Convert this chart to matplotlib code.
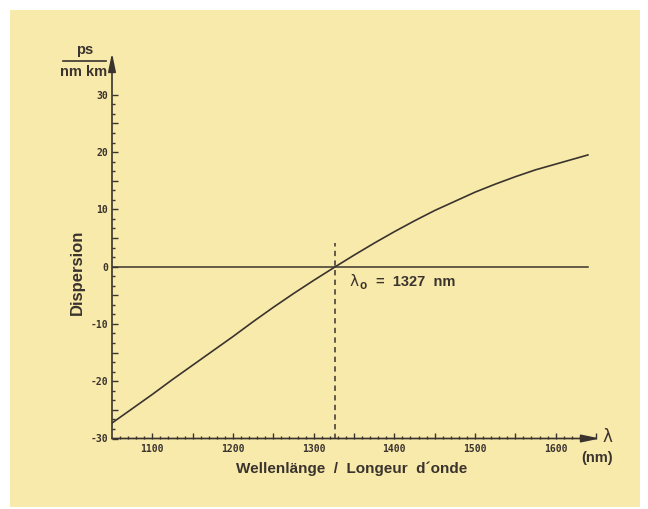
import matplotlib
matplotlib.use('Agg')
import matplotlib.pyplot as plt
import matplotlib.ticker as mticker
from matplotlib.patches import Rectangle
from matplotlib.lines import Line2D

# dispersion curve (nm, ps/(nm km))
wavelength = [1050, 1075, 1100, 1125, 1150, 1175, 1200, 1225, 1250, 1275, 1300, 1327,
              1350, 1375, 1400, 1425, 1450, 1475, 1500, 1525, 1550, 1575, 1600, 1625, 1640]
dispersion = [-27.3, -24.8, -22.3, -19.7, -17.2, -14.7, -12.2, -9.6, -7.1, -4.7, -2.4, 0.0,
              2.0, 4.1, 6.1, 8.0, 9.8, 11.4, 13.0, 14.4, 15.7, 16.9, 17.9, 18.9, 19.5]
lambda0 = 1327

x_labels = [1100, 1200, 1300, 1400, 1500, 1600]
y_labels = [-30, -20, -10, 0, 10, 20, 30]

ink = '#3a332e'
cream = '#f8eaab'
W, H = 648, 509

fig = plt.figure(figsize=(W / 100, H / 100), dpi=100)
fig.patch.set_facecolor('white')
fig.patches.append(Rectangle((10 / W, 1 - 507 / H), 630 / W, 497 / H,
                             transform=fig.transFigure, facecolor=cream,
                             edgecolor='none', zorder=-10))

# axes box in pixel terms: left 112, right (arrow tip) 600, top 53, bottom 438
ax = fig.add_axes([112 / W, 1 - 438.5 / H, (600 - 112) / W, (438.5 - 53) / H])
ax.set_facecolor('none')
ax.set_xlim(1050, 1655)
ax.set_ylim(-30, 37.3)
for s in ax.spines.values():
    s.set_visible(False)

# curve, zero line and lambda0 marker
ax.plot(wavelength, dispersion, color=ink, lw=1.2)
ax.plot([wavelength[0], wavelength[-1]], [0, 0], color=ink, lw=1.1)
ax.plot([lambda0, lambda0], [-30, 4.2], color=ink, lw=1.1, dashes=(3.5, 2.8))

# axes as arrows
ax.annotate('', xy=(1, 0), xytext=(0, 0), xycoords='axes fraction',
            arrowprops=dict(arrowstyle='-|>,head_length=11,head_width=2.3',
                            mutation_scale=1, color=ink, lw=1.2, shrinkA=0, shrinkB=0))
ax.annotate('', xy=(0, 1), xytext=(0, 0), xycoords='axes fraction',
            arrowprops=dict(arrowstyle='-|>,head_length=11,head_width=2.3',
                            mutation_scale=1, color=ink, lw=1.2, shrinkA=0, shrinkB=0))

# ticks
ax.xaxis.set_major_locator(mticker.FixedLocator(range(1100, 1651, 50)))
ax.xaxis.set_minor_locator(mticker.FixedLocator(range(1060, 1651, 10)))
ax.xaxis.set_major_formatter(mticker.FuncFormatter(
    lambda v, p: str(int(v)) if int(v) in x_labels else ''))
ax.yaxis.set_major_locator(mticker.FixedLocator(range(-30, 31, 5)))
ax.yaxis.set_minor_locator(mticker.FixedLocator([-30 + i * 10 / 6 for i in range(37)]))
ax.yaxis.set_major_formatter(mticker.FuncFormatter(
    lambda v, p: str(int(round(v))) if int(round(v)) in y_labels else ''))
ax.tick_params(which='both', direction='in', color=ink, width=1.0)
ax.tick_params(which='major', length=4.0)
ax.tick_params(which='minor', length=2.0)
ax.tick_params(axis='x', which='major', pad=4)
ax.tick_params(axis='y', which='major', pad=3)
for lab in ax.get_xticklabels() + ax.get_yticklabels():
    lab.set_fontfamily('DejaVu Sans Mono')
    lab.set_fontweight('bold')
    lab.set_fontsize(7)
    lab.set_color(ink)

# texts
lab_font = dict(family='Liberation Sans', weight='bold', color=ink)
fig.text(352 / W, 1 - 469 / H, 'Wellenlänge  /  Longeur  d\u00b4onde', ha='center', va='center',
         fontsize=11, **lab_font)
fig.text(77 / W, 1 - 272 / H, 'Dispersion', ha='center', va='center', rotation=90,
         fontsize=12, **lab_font)
fig.text(85 / W, 1 - 50 / H, 'ps', ha='center', va='center', fontsize=10.5, **lab_font)
fig.add_artist(Line2D([63 / W, 106 / W], [1 - 61 / H, 1 - 61 / H], color=ink, lw=1.2,
                      transform=fig.transFigure))
fig.text(84 / W, 1 - 72 / H, 'nm km', ha='center', va='center', fontsize=10.5, **lab_font)
fig.text(602 / W, 1 - 437 / H, 'λ', ha='left', va='center', fontsize=12,
         family='DejaVu Sans', color=ink)
fig.text(597 / W, 1 - 458 / H, '(nm)', ha='center', va='center', fontsize=10.5, **lab_font)
fig.text(349 / W, 1 - 282 / H, 'λ', ha='left', va='center', fontsize=11,
         family='DejaVu Sans', color=ink)
fig.text(360 / W, 1 - 286 / H, 'o', ha='left', va='center', fontsize=8.5, **lab_font)
fig.text(376 / W, 1 - 282 / H, '=  1327  nm', ha='left', va='center', fontsize=10.5, **lab_font)

fig.savefig('out.png', dpi=100)
